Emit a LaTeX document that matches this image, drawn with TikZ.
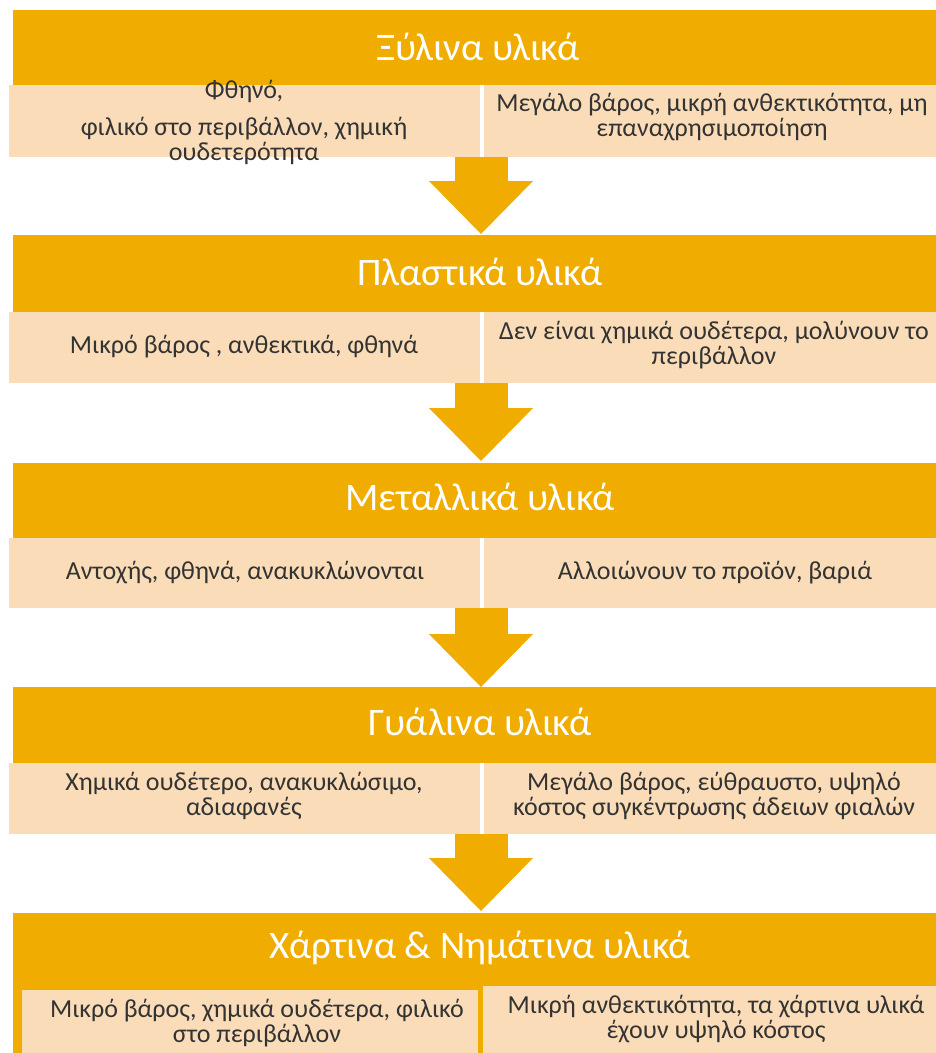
\documentclass[tikz,border=0pt]{standalone}
\usepackage{fontspec}
\setmainfont{Carlito}
\usetikzlibrary{arrows.meta}
\definecolor{gold}{HTML}{F0AD00}
\definecolor{peach}{HTML}{FADDB8}
\definecolor{txt}{HTML}{333333}
\tikzset{
  hdr/.style={fill=gold, draw=none, anchor=north west, inner sep=0pt},
  sub/.style={fill=peach, draw=none, anchor=north west, inner sep=0pt},
  htext/.style={text=white, inner sep=0pt, font=\fontsize{39}{44}\selectfont},
  stext/.style={text=txt, inner sep=0pt, align=center, font=\fontsize{26}{25}\selectfont},
  flow/.style={gold, line width=53pt, -{Triangle[width=104pt,length=53pt,line width=0pt]}}
}
\begin{document}
\begin{tikzpicture}[x=1pt,y=-1pt]
\useasboundingbox (0,0) rectangle (936,1053);
% block 1
\node[hdr, minimum width=935, minimum height=75] (h1) at (13,10) {};
\node[htext] (t1) at (478,47) {Ξύλινα υλικά};
\node[sub, minimum width=471, minimum height=72] (l1) at (9,85) {};
\node[sub, minimum width=460, minimum height=72] (r1) at (484,85) {};
\node[stext] (lt1) at (244,122) {Φθηνό,\\[12pt]φιλικό στο περιβάλλον, χημική\\ουδετερότητα};
\node[stext] (rt1) at (712,117) {Μεγάλο βάρος, μικρή ανθεκτικότητα, μη\\επαναχρησιμοποίηση};
% block 2
\node[hdr, minimum width=935, minimum height=77] (h2) at (13,235) {};
\node[htext] (t2) at (480,272) {Πλαστικά υλικά};
\node[sub, minimum width=471, minimum height=71] (l2) at (9,312) {};
\node[sub, minimum width=460, minimum height=71] (r2) at (484,312) {};
\node[stext] (lt2) at (244,347) {Μικρό βάρος , ανθεκτικά, φθηνά};
\node[stext] (rt2) at (714,345) {Δεν είναι χημικά ουδέτερα, μολύνουν το\\περιβάλλον};
% block 3
\node[hdr, minimum width=935, minimum height=75] (h3) at (13,463) {};
\node[htext] (t3) at (480,497) {Μεταλλικά υλικά};
\node[sub, minimum width=471, minimum height=70] (l3) at (9,538) {};
\node[sub, minimum width=460, minimum height=70] (r3) at (484,538) {};
\node[stext] (lt3) at (245,573) {Αντοχής, φθηνά, ανακυκλώνονται};
\node[stext] (rt3) at (715,573) {Αλλοιώνουν το προϊόν, βαριά};
% block 4
\node[hdr, minimum width=935, minimum height=76] (h4) at (13,687) {};
\node[htext] (t4) at (480,722) {Γυάλινα υλικά};
\node[sub, minimum width=471, minimum height=71] (l4) at (9,763) {};
\node[sub, minimum width=460, minimum height=71] (r4) at (484,763) {};
\node[stext] (lt4) at (244,796) {Χημικά ουδέτερο, ανακυκλώσιμο,\\αδιαφανές};
\node[stext] (rt4) at (714,796) {Μεγάλο βάρος, εύθραυστο, υψηλό\\κόστος συγκέντρωσης άδειων φιαλών};
% block 5
\node[hdr, minimum width=935, minimum height=145] (h5) at (13,913) {};
\node[htext] (t5) at (480,948) {Χάρτινα \& Νημάτινα υλικά};
\node[sub, minimum width=456, minimum height=70] (l5) at (22,990) {};
\node[sub, minimum width=460, minimum height=74] (r5) at (483,986) {};
\node[stext] (lt5) at (257,1023) {Μικρό βάρος, χημικά ουδέτερα, φιλικό\\στο περιβάλλον};
\node[stext] (rt5) at (716,1019) {Μικρή ανθεκτικότητα, τα χάρτινα υλικά\\έχουν υψηλό κόστος};
% connectors
\coordinate (a1) at (481,157); \coordinate (b1) at (481,234);
\coordinate (a2) at (481,383); \coordinate (b2) at (481,461);
\coordinate (a3) at (481,608); \coordinate (b3) at (481,687);
\coordinate (a4) at (481,834); \coordinate (b4) at (481,911);
\draw[flow] (a1) -- (b1);
\draw[flow] (a2) -- (b2);
\draw[flow] (a3) -- (b3);
\draw[flow] (a4) -- (b4);
\end{tikzpicture}
\end{document}
